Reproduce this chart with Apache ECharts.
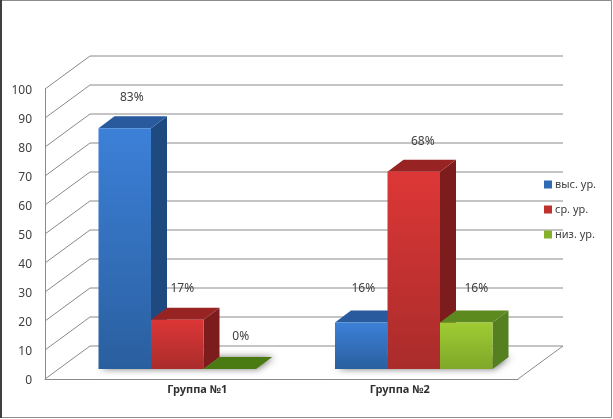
<!DOCTYPE html>
<html>
<head>
<meta charset="utf-8">
<style>
html, body { margin: 0; padding: 0; background: #fff; }
#chart { width: 613px; height: 419px; }
</style>
<script src="https://cdn.jsdelivr.net/npm/echarts@6/dist/echarts.min.js"></script>
</head>
<body>
<div id="chart"></div>
<script>
const groups = ['Группа №1', 'Группа №2'];
const seriesNames = ['выс. ур.', 'ср. ур.', 'низ. ур.'];
const highValues = [83, 16];
const midValues = [17, 68];
const lowValues = [0, 16];
const yTicks = [0, 10, 20, 30, 40, 50, 60, 70, 80, 90, 100];

const FONT = '"Noto Sans", sans-serif';
const GRID_COLOR = '#8a8a8a';
const WALL = [45, -33];      // depth of the back wall
const BAR_PLANE = [14, -10]; // where the bars stand on the floor
const BAR_DEPTH = [16, -12];
const BAR_SHARE = 0.222;     // one bar as a part of the category band

// data labels were placed by hand in the original, so each has its own nudge
const labelNudge = [
    [[0, -1], [-5, -4]],
    [[-2, -1], [2, 0]],
    [[4, -2], [3, -4]]
];

const palette = [
    { legend: '#2f6bb5', light: '#3c80d8', dark: '#2a5f9f', side: '#1f4a80', top: '#2a5a9e' },
    { legend: '#c0302e', light: '#dc3736', dark: '#a92c2b', side: '#7c1c1c', top: '#982323' },
    { legend: '#84b02a', light: '#9fcb33', dark: '#7fa828', side: '#55801f', top: '#5c8a1e' }
];

function renderWall(params, api) {
    const rect = params.coordSys;
    const value = api.value(1);
    const y = api.coord([0, value])[1];
    const left = rect.x;
    const right = rect.x + rect.width;
    const children = [{
        type: 'polyline',
        shape: { points: [[left, y], [left + WALL[0], y + WALL[1]], [right + WALL[0], y + WALL[1]]] },
        style: { fill: 'none', stroke: GRID_COLOR, lineWidth: 1 }
    }];
    if (value === 0) {
        children.push({
            type: 'line',
            shape: { x1: right, y1: y, x2: right + WALL[0], y2: y + WALL[1] },
            style: { stroke: GRID_COLOR, lineWidth: 1 }
        });
    }
    return { type: 'group', children };
}

function renderShadow(params, api) {
    const band = api.size([1, 0])[0];
    const w = band * BAR_SHARE;
    const p = api.coord([api.value(0), 0]);
    const x0 = p[0] + BAR_PLANE[0] - 1.5 * w;
    const x1 = x0 + 3 * w;
    const y = p[1] + BAR_PLANE[1];
    return {
        type: 'polygon',
        shape: { points: [[x0, y], [x1, y], [x1 + BAR_DEPTH[0], y + BAR_DEPTH[1]], [x0 + BAR_DEPTH[0], y + BAR_DEPTH[1]]] },
        style: { fill: '#999', shadowBlur: 7, shadowColor: 'rgba(0,0,0,0.55)', shadowOffsetX: 2 }
    };
}

function makeBarRenderer(index) {
    const c = palette[index];
    return function (params, api) {
        const value = api.value(1);
        const band = api.size([1, 0])[0];
        const w = band * BAR_SHARE;
        const base = api.coord([api.value(0), 0]);
        const head = api.coord([api.value(0), value]);
        const x0 = base[0] + BAR_PLANE[0] + (index - 1.5) * w;
        const x1 = x0 + w;
        const y0 = base[1] + BAR_PLANE[1];
        const y1 = head[1] + BAR_PLANE[1];
        const dx = BAR_DEPTH[0];
        const dy = BAR_DEPTH[1];
        const nudge = labelNudge[index][params.dataIndex];
        const children = [
            {
                type: 'polygon',
                shape: { points: [[x1, y0], [x1 + dx, y0 + dy], [x1 + dx, y1 + dy], [x1, y1]] },
                style: { fill: c.side }
            },
            {
                type: 'polygon',
                shape: { points: [[x0, y1], [x1, y1], [x1 + dx, y1 + dy], [x0 + dx, y1 + dy]] },
                style: { fill: value === 0 ? '#4a7a12' : c.top }
            }
        ];
        if (value > 0) {
            children.push({
                type: 'rect',
                shape: { x: x0, y: y1, width: w, height: y0 - y1 },
                style: {
                    fill: {
                        type: 'linear', x: 0, y: 0, x2: 0, y2: 1,
                        colorStops: [{ offset: 0, color: c.light }, { offset: 1, color: c.dark }]
                    }
                }
            });
        }
        children.push({
            type: 'text',
            style: {
                text: value + '%',
                x: (x0 + x1) / 2 + 7 + nudge[0],
                y: y1 - 30 + nudge[1],
                align: 'center',
                verticalAlign: 'middle',
                font: '12px ' + FONT,
                fill: '#404040'
            }
        });
        return { type: 'group', children };
    };
}

function barSeries(index, values) {
    return {
        name: seriesNames[index],
        type: 'custom',
        renderItem: makeBarRenderer(index),
        itemStyle: { color: palette[index].legend },
        encode: { x: 0, y: 1 },
        data: values.map((v, i) => [i, v])
    };
}

const chart = echarts.init(document.getElementById('chart'), null, { renderer: 'canvas' });
chart.setOption({
    animation: false,
    backgroundColor: '#fff',
    graphic: [{
        type: 'rect',
        shape: { x: 0.5, y: 0.5, width: 611, height: 417 },
        style: { fill: 'none', stroke: '#8c8c8c', lineWidth: 1 },
        z: 10
    }, {
        type: 'line',
        shape: { x1: 1, y1: 0, x2: 1, y2: 418 },
        style: { stroke: '#404040', lineWidth: 2 },
        z: 10
    }],
    grid: { left: 45, top: 89, width: 473, height: 290 },
    legend: {
        data: seriesNames,
        orient: 'vertical',
        left: 544,
        top: 179,
        icon: 'rect',
        itemWidth: 8,
        itemHeight: 8,
        itemGap: 14,
        padding: 0,
        selectedMode: false,
        textStyle: { fontFamily: FONT, fontSize: 11, color: '#404040', padding: [0, 0, 0, -2] }
    },
    xAxis: {
        type: 'category',
        data: [
            { value: groups[0], textStyle: { padding: [0, 0, 0, 68] } },
            groups[1]
        ],
        axisLine: { show: true, lineStyle: { color: GRID_COLOR } },
        axisTick: { show: false },
        axisLabel: { fontFamily: FONT, fontSize: 11, fontWeight: 'bold', color: '#303030', margin: 5 }
    },
    yAxis: {
        type: 'value',
        min: 0,
        max: 100,
        interval: 10,
        axisLine: { show: true, lineStyle: { color: GRID_COLOR } },
        axisTick: { show: false },
        splitLine: { show: false },
        axisLabel: {
            fontFamily: FONT, fontSize: 12, color: '#404040', margin: 13,
            verticalAlign: 'top', lineHeight: 4
        }
    },
    series: [
        {
            name: 'wall',
            type: 'custom',
            renderItem: renderWall,
            encode: { x: 0, y: 1 },
            data: yTicks.map(t => [0, t]),
            z: 1
        },
        {
            name: 'shadow',
            type: 'custom',
            renderItem: renderShadow,
            encode: { x: 0 },
            data: groups.map((g, i) => [i, 0]),
            z: 1
        },
        barSeries(0, highValues),
        barSeries(1, midValues),
        barSeries(2, lowValues)
    ]
});
</script>
</body>
</html>
